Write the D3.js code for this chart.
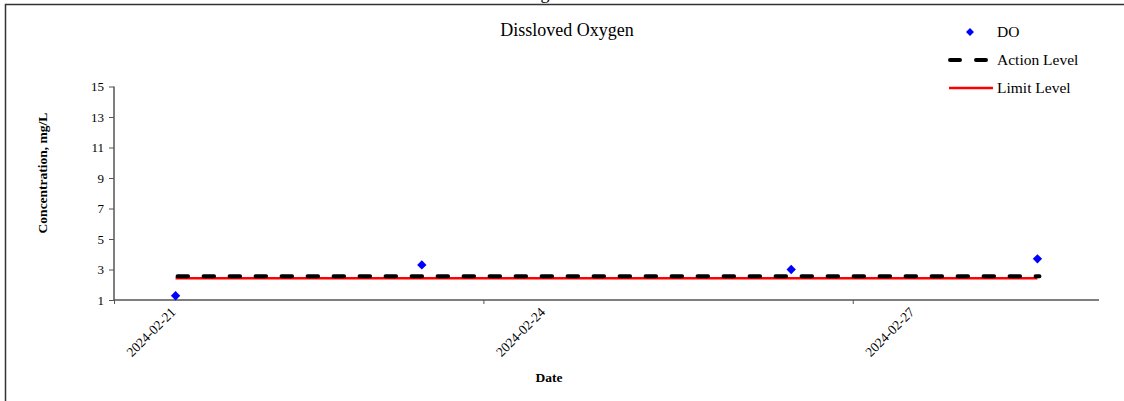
<!DOCTYPE html>
<html>
<head>
<meta charset="utf-8">
<script src="https://cdn.jsdelivr.net/npm/d3@7"></script>
<style>
  html, body { margin: 0; padding: 0; background: #fff; }
  svg { display: block; font-family: "Liberation Serif", "Times New Roman", serif; }
</style>
</head>
<body>
<svg id="chart" width="1124" height="401"></svg>
<script>
// ---- data ----
const sampleDates = ["2024-02-21", "2024-02-23", "2024-02-26", "2024-02-28"];
const doValues = [1.28, 3.3, 3.0, 3.7];
const actionLevel = [2.55, 2.55, 2.55, 2.55];
const limitLevel = [2.42, 2.42, 2.42, 2.42];
const yTicks = [1, 3, 5, 7, 9, 11, 13, 15];
const xTickDates = ["2024-02-21", "2024-02-24", "2024-02-27"];
const xDomainDates = ["2024-02-21", "2024-02-29"];
const legendLabels = ["DO", "Action Level", "Limit Level"];
const titleText = "Dissloved Oxygen";
const yTitle = "Concentration, mg/L";
const xTitle = "Date";

(function () {
const parse = d3.utcParse("%Y-%m-%d");
const mid = s => d3.utcHour.offset(parse(s), 12);

const svg = d3.select("#chart");
const pL = 114, pR = 1099, pT = 86.5, pB = 300;

const x = d3.scaleUtc().domain(xDomainDates.map(parse)).range([pL, pR]);
const y = d3.scaleLinear().domain([1, 15]).range([pB, pT]);

// outer frame (top and left edges visible)
svg.append("path")
  .attr("d", "M5.5,401 L5.5,4.5 L1124,4.5")
  .attr("fill", "none").attr("stroke", "#333").attr("stroke-width", 1.5);

// cut-off glyph of the outer heading (cut off in the reference too)
svg.append("text").attr("x", 545).attr("y", -1).attr("text-anchor", "middle")
  .attr("font-size", 18).text("g");

// title
svg.append("text").attr("x", 567).attr("y", 36).attr("text-anchor", "middle")
  .attr("font-size", 18).attr("fill", "#000").text(titleText);

// y axis
const yAxis = svg.append("g").attr("transform", `translate(${pL},0)`)
  .call(d3.axisLeft(y).tickValues(yTicks).tickSize(5).tickPadding(5).tickFormat(d3.format("d")));
yAxis.select(".domain").attr("stroke", "#555").attr("stroke-width", 1.5).attr("d", `M0,${pT}V${pB}`);
yAxis.selectAll(".tick line").attr("stroke", "#555").attr("stroke-width", 1);
yAxis.selectAll("text").attr("font-size", 13).attr("font-family", "Liberation Serif").attr("fill", "#000");

// x axis
const xAxis = svg.append("g").attr("transform", `translate(0,${pB})`)
  .call(d3.axisBottom(x).tickValues(xTickDates.map(parse)).tickSize(4).tickFormat(""));
xAxis.select(".domain").attr("stroke", "#555").attr("stroke-width", 1.5).attr("d", `M${pL},0H${pR}`);
xAxis.selectAll(".tick line").attr("stroke", "#555").attr("stroke-width", 1);

// x tick labels at day centres, rotated -45
svg.append("g").selectAll("text").data(xTickDates).join("text")
  .attr("transform", d => `translate(${x(mid(d)) + 1},${pB + 13}) rotate(-45)`)
  .attr("text-anchor", "end").attr("font-size", 13.5).attr("font-family", "Liberation Serif").attr("fill", "#000")
  .text(d => d);

// axis titles
svg.append("text").attr("transform", `translate(47,173) rotate(-90)`)
  .attr("text-anchor", "middle").attr("font-weight", "bold").attr("font-size", 13.5).text(yTitle);
svg.append("text").attr("x", 549).attr("y", 382).attr("text-anchor", "middle")
  .attr("font-weight", "bold").attr("font-size", 13.5).text(xTitle);

// lines
const line = d3.line().x(d => x(mid(d.date))).y(d => y(d.v));
const limitData = sampleDates.map((d, i) => ({date: d, v: limitLevel[i]}));
const actionData = sampleDates.map((d, i) => ({date: d, v: actionLevel[i]}));

svg.append("path").datum(limitData).attr("d", line)
  .attr("fill", "none").attr("stroke", "#ff0000").attr("stroke-width", 2.5);
svg.append("path").datum(actionData).attr("d", line)
  .attr("fill", "none").attr("stroke", "#000").attr("stroke-width", 4)
  .attr("stroke-linecap", "round").attr("stroke-dasharray", "10.5,15.5")
  .attr("transform", "translate(2,0)");

// DO points
const diamond = d3.symbol(d3.symbolDiamond2, 56);
svg.append("g").selectAll("path").data(sampleDates.map((d, i) => ({date: d, v: doValues[i]}))).join("path")
  .attr("d", diamond)
  .attr("transform", d => `translate(${x(mid(d.date))},${y(d.v)})`)
  .attr("fill", "#0000ff");

// legend
const lg = svg.append("g");
lg.append("path").attr("d", d3.symbol(d3.symbolDiamond2, 40)).attr("transform", "translate(970,32)").attr("fill", "#0000ff");
lg.append("line").attr("x1", 950).attr("x2", 990).attr("y1", 60).attr("y2", 60)
  .attr("stroke", "#000").attr("stroke-width", 4).attr("stroke-linecap", "round").attr("stroke-dasharray", "10,16");
lg.append("line").attr("x1", 949).attr("x2", 993).attr("y1", 88).attr("y2", 88)
  .attr("stroke", "#ff0000").attr("stroke-width", 2.5);
lg.selectAll("text.lab").data(legendLabels).join("text").attr("class", "lab")
  .attr("x", 997).attr("y", (d, i) => 37 + i * 28).attr("font-size", 15.5).attr("fill", "#000").text(d => d);
})();
</script>
</body>
</html>
